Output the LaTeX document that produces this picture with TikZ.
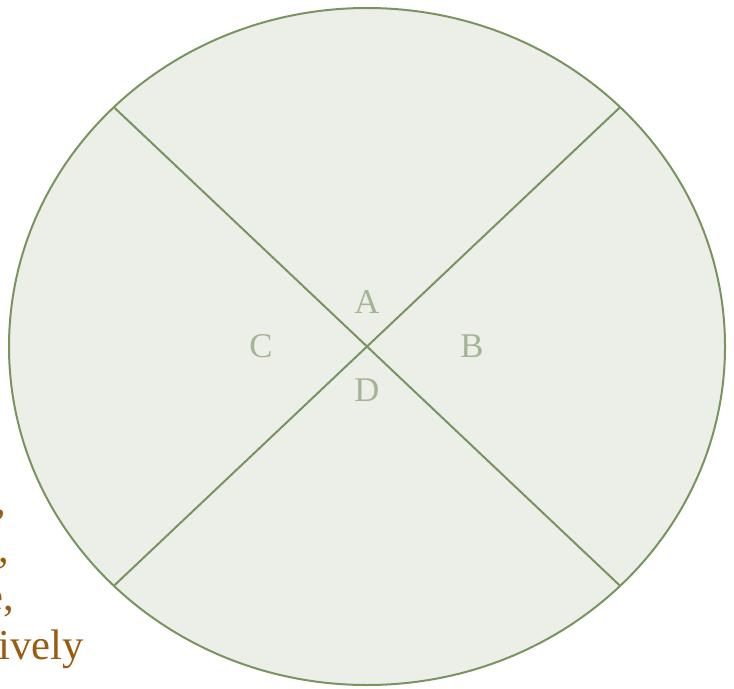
\documentclass[tikz,border=0pt]{standalone}
\usepackage{fontspec}
\setmainfont{Liberation Serif}
\usetikzlibrary{shapes.geometric}
\definecolor{fillc}{HTML}{EBEFE7}
\definecolor{linec}{HTML}{7A9460}
\definecolor{labc}{HTML}{A3B594}
\definecolor{brownc}{HTML}{9A5A10}
\begin{document}
\begin{tikzpicture}[x=0.75pt,y=-0.75pt,
  lab/.style={text=labc,font=\fontsize{26}{30}\selectfont,inner sep=0pt},
  side/.style={anchor=base east,inner sep=0pt,text=brownc,font=\fontsize{32}{36}\selectfont},
  seg/.style={draw=linec,line width=1.5pt}]
\useasboundingbox (0,0) rectangle (734,688);
\clip (0,0) rectangle (734,688);
\node[side] (t1) at (6,514) {one,};
\node[side] (t2) at (9,562) {two,};
\node[side] (t3) at (14,610) {three,};
\node[side] (t4) at (84,659) {respectively};
\node[ellipse,draw=linec,fill=fillc,line width=1.5pt,minimum width=716*0.75pt,minimum height=677*0.75pt,inner sep=0pt] (e) at (367,346.5) {};
\coordinate (p1) at (113.9,107.2);
\coordinate (p2) at (620.1,585.8);
\coordinate (p3) at (620.1,107.2);
\coordinate (p4) at (113.9,585.8);
\draw[seg] (p1) -- (p2);
\draw[seg] (p3) -- (p4);
\node[lab] (A) at (367,302) {A};
\node[lab] (B) at (472,346) {B};
\node[lab] (C) at (261,346) {C};
\node[lab] (D) at (367,390) {D};
\end{tikzpicture}
\end{document}
